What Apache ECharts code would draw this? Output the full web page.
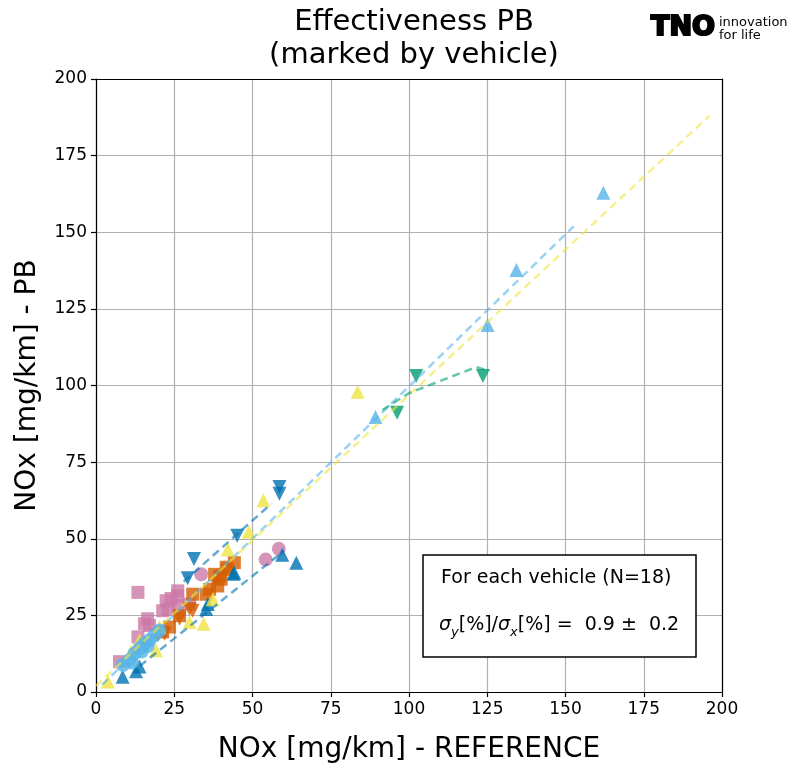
<!DOCTYPE html>
<html><head><meta charset="utf-8">
<script src="https://cdn.jsdelivr.net/npm/echarts@6/dist/echarts.min.js"></script>
<style>html,body{margin:0;padding:0;background:#fff}#c{width:796px;height:769px}</style>
</head><body><div id="c"></div>
<script>
// ---- data (x = NOx reference, y = NOx PB) ----
const xTicks = [0, 25, 50, 75, 100, 125, 150, 175, 200];
const yTicks = [0, 25, 50, 75, 100, 125, 150, 175, 200];

const darkBlueUp = [[8.5,5],[12.8,6.8],[13.9,8.3],[35.7,28.7],[35.2,27.1],[43.9,38.6],[44.2,38.9],[59.5,44.8],[64,42.2]];
const darkBlueDown = [[31.3,43.4],[29.3,37.1],[45.1,51],[58.6,66.9],[58.6,64.7]];
const orangeSq = [[44.2,42.2],[41.6,40.7],[42.1,40],[37.9,38.4],[39.5,37.8],[40,36.8],[38.9,34.6],[36.3,33.5],[35.2,31.9],[30.9,31.9],[26.7,24.9],[23.5,21.2],[21.3,19.6]];
const orangeDown = [[29.9,27.1],[30.9,26.5],[26.7,23.9],[21.9,19],[19.7,18.5]];
const pinkSq = [[13.4,32.5],[26.1,33],[26.1,31.4],[22.4,29.8],[24,30.5],[26.1,28.2],[29.9,28.7],[21.3,26.5],[23,27],[16.5,23.9],[17.1,21.7],[15.5,22.3],[13.4,18],[7.5,9.9]];
const pinkCircle = [[58.4,46.7],[54.2,43.2],[33.6,38.4]];
const yellowUp = [[3.8,3.4],[11.2,13.1],[13.9,16.9],[19.2,13.6],[20.3,21.2],[29.9,22.8],[34.4,22.3],[37.3,30.3],[42.1,46.5],[48.8,52.3],[53.5,62.6],[83.6,98]];
const lightBlueUp = [[89.3,89.7],[125.1,119.7],[134.3,137.7],[162.1,162.9]];
const lightBlueCluster = [[8.6,8.8],[10.7,10.4],[11.5,9.6],[12.3,12.6],[13.9,14.2],[14.6,13.2],[15.5,15.8],[16.5,15],[17.1,16.9],[18.7,18.5],[20.3,20.1]];
const greenDown = [[96.2,91.1],[102.3,103.1],[123.6,103.1]];

const fitLightBlue = [[2,2.4],[152.6,151.9]];
const fitYellow = [[0,2],[196,188]];
const fitGreen = [[91.5,92],[100,97.5],[110,101.5],[121.5,106],[125.7,104.8]];
const fitDarkBlueUpper = [[28,36],[56,61.4]];
const fitDarkBlueLower = [[14,8.5],[60,46]];

const C = {dblue:'#0072B2', orange:'#D55E00', pink:'#CC79A7', yellow:'#F0E442', lblue:'#56B4E9', green:'#009E73'};

function scat(data, color, symbol, rot, size){
  return {type:'scatter', data, symbol, symbolRotate:rot||0, symbolSize:size||14,
    itemStyle:{color, opacity:0.8}, silent:true, z:2};
}
function fit(data, color){
  return {type:'line', data, symbol:'none', smooth:false, silent:true, z:3,
    lineStyle:{color, width:2.5, type:[8,5], opacity:0.6}};
}

const chart = echarts.init(document.getElementById('c'), null, {renderer:'canvas'});
const font = 'DejaVu Sans';
chart.setOption({
  animation:false,
  backgroundColor:'#fff',
  title:{text:'Effectiveness PB\n(marked by vehicle)', left:409, top:1, textAlign:'center',
    textStyle:{fontFamily:font, fontSize:29, fontWeight:'normal', color:'#000', lineHeight:33}},
  grid:{left:96, top:79, right:74, bottom:70, containLabel:false},
  xAxis:[{type:'value', min:0, max:200, interval:25,
    name:'NOx [mg/km] - REFERENCE', nameLocation:'middle', nameGap:44,
    nameTextStyle:{fontFamily:font, fontSize:28, color:'#000'},
    axisLine:{show:true, onZero:false, lineStyle:{color:'#000', width:1.2}},
    axisTick:{show:true, inside:false, length:5, lineStyle:{color:'#000', width:1.2}},
    axisLabel:{fontFamily:font, fontSize:17, color:'#000', margin:9},
    splitLine:{show:true, lineStyle:{color:'#b0b0b0', width:1.2}}},
    {type:'value', position:'top', min:0, max:200, axisLine:{show:true, onZero:false, lineStyle:{color:'#000', width:1.2}},
     axisTick:{show:false}, axisLabel:{show:false}, splitLine:{show:false}}],
  yAxis:[{type:'value', min:0, max:200, interval:25,
    name:'NOx [mg/km] - PB', nameLocation:'middle', nameGap:54,
    nameTextStyle:{fontFamily:font, fontSize:28, color:'#000'},
    axisLine:{show:true, onZero:false, lineStyle:{color:'#000', width:1.2}},
    axisTick:{show:true, inside:false, length:5, lineStyle:{color:'#000', width:1.2}},
    axisLabel:{fontFamily:font, fontSize:17, color:'#000', margin:9},
    splitLine:{show:true, lineStyle:{color:'#b0b0b0', width:1.2}}},
    {type:'value', position:'right', min:0, max:200, axisLine:{show:true, onZero:false, lineStyle:{color:'#000', width:1.2}},
     axisTick:{show:false}, axisLabel:{show:false}, splitLine:{show:false}}],
  series:[
    scat(pinkSq, C.pink, 'rect', 0, 13),
    scat(pinkCircle, C.pink, 'circle', 0, 14),
    scat(orangeSq, C.orange, 'rect', 0, 13),
    scat(orangeDown, C.orange, 'triangle', 180, 14),
    scat(darkBlueUp, C.dblue, 'triangle', 0, 14),
    scat(darkBlueDown, C.dblue, 'triangle', 180, 14),
    scat(yellowUp, C.yellow, 'triangle', 0, 14),
    scat(lightBlueCluster, C.lblue, 'circle', 0, 14),
    scat(lightBlueUp, C.lblue, 'triangle', 0, 14),
    scat(greenDown, C.green, 'triangle', 180, 14),
    fit(fitLightBlue, C.lblue),
    fit(fitYellow, C.yellow),
    fit(fitGreen, C.green),
    fit(fitDarkBlueUpper, C.dblue),
    fit(fitDarkBlueLower, C.dblue)
  ],
  graphic:[
    {type:'rect', z:100, shape:{x:423, y:555, width:273, height:102},
     style:{fill:'#fff', stroke:'#000', lineWidth:1.5}},
    {type:'text', z:101, left:441, top:569,
     style:{text:'For each vehicle (N=18)', font:'19px "DejaVu Sans"', fill:'#000'}},
    {type:'text', z:101, left:439, top:616,
     style:{text:'{i|σ}{s|y}{n|[%]/}{i|σ}{s|x}{n|[%] =  0.9 ±  0.2}',
       rich:{
         n:{fontFamily:font, fontSize:19, color:'#000', lineHeight:26, verticalAlign:'bottom'},
         i:{fontFamily:font, fontSize:19, fontStyle:'italic', color:'#000', lineHeight:26, verticalAlign:'bottom'},
         s:{fontFamily:font, fontSize:13, fontStyle:'italic', color:'#000', lineHeight:20, verticalAlign:'bottom', padding:[0,0,-4,0]}
       }}},
    {type:'text', z:101, left:650, top:13,
     style:{text:'TNO', font:'bold 27px "DejaVu Sans"', fill:'#000', stroke:'#000', lineWidth:2.2}},
    {type:'text', z:101, left:719, top:16,
     style:{text:'innovation\nfor life', font:'13px "DejaVu Sans"', fill:'#000', lineHeight:13}}
  ]
});
</script></body></html>
